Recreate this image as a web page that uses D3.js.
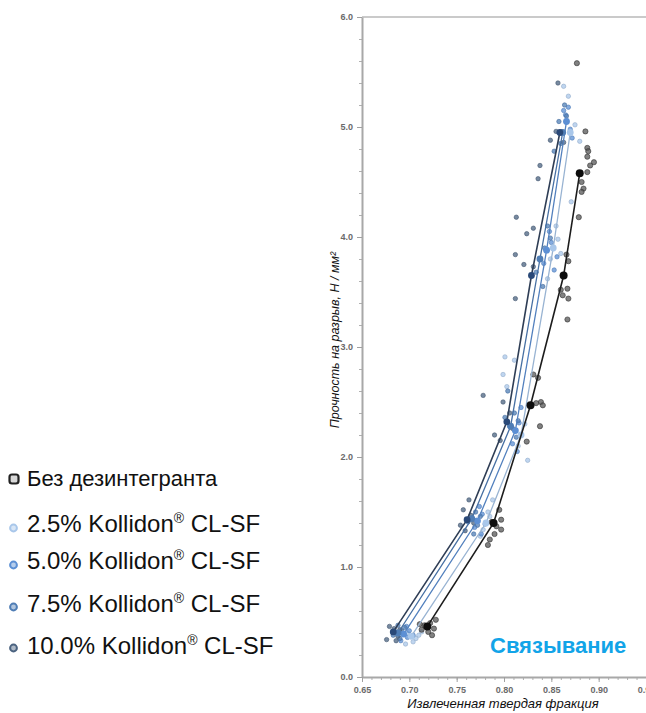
<!DOCTYPE html>
<html>
<head>
<meta charset="utf-8">
<script src="https://cdn.jsdelivr.net/npm/d3@7"></script>
<style>
  html, body { margin: 0; padding: 0; background: #fff; }
  svg { display: block; }
</style>
</head>
<body>
<svg id="chart" width="646" height="713"></svg>
<script>
// ---------- DATA ----------
const seriesNames = ["Без дезинтегранта", "2.5% Kollidon® CL-SF", "5.0% Kollidon® CL-SF", "7.5% Kollidon® CL-SF", "10.0% Kollidon® CL-SF"];
const seriesColors = ["#262626", "#a9c7ea", "#5b8fd4", "#4f7db5", "#4b6380"];
const xTickValues = [0.65, 0.70, 0.75, 0.80, 0.85, 0.90, 0.95];
const yTickValues = [0, 1, 2, 3, 4, 5, 6];
const xLabel = "Извлеченная твердая фракция";
const yLabel = "Прочность на разрыв, Н / мм²";
const annotation = "Связывание";

// mean curves (solid fraction, tensile strength) per series
const lineNone = [[0.719,0.46],[0.789,1.40],[0.828,2.47],[0.863,3.65],[0.880,4.58]];
const line25   = [[0.702,0.37],[0.781,1.40],[0.818,2.20],[0.852,3.90],[0.870,4.95]];
const line50   = [[0.694,0.39],[0.772,1.42],[0.812,2.24],[0.845,3.88],[0.866,5.05]];
const line75   = [[0.688,0.40],[0.766,1.44],[0.807,2.28],[0.838,3.80],[0.862,4.95]];
const line100  = [[0.683,0.41],[0.761,1.43],[0.803,2.32],[0.829,3.65],[0.859,4.95]];

// measured points per series
const pointsNone = [
  [0.716,0.47],[0.722,0.49],[0.726,0.44],[0.713,0.43],[0.720,0.41],[0.728,0.52],[0.711,0.48],[0.724,0.38],
  [0.787,1.41],[0.795,1.52],[0.797,1.43],[0.792,1.37],[0.797,1.34],[0.785,1.25],[0.783,1.20],[0.790,1.30],
  [0.831,2.75],[0.836,2.72],[0.839,2.50],[0.841,2.47],[0.834,2.49],[0.838,2.28],[0.824,2.14],
  [0.866,3.84],[0.868,3.78],[0.860,3.52],[0.867,3.53],[0.868,3.44],[0.862,3.47],[0.867,3.25],
  [0.886,4.96],[0.888,4.81],[0.889,4.78],[0.888,4.73],[0.895,4.68],[0.891,4.65],[0.888,4.59],[0.882,4.50],
  [0.884,4.44],[0.882,4.41],[0.877,5.58],[0.879,4.18]
];
const points25 = [
  [0.707,0.35],[0.698,0.40],[0.710,0.38],[0.704,0.32],[0.696,0.30],[0.713,0.41],
  [0.785,1.46],[0.778,1.34],[0.788,1.61],[0.783,1.50],[0.775,1.28],
  [0.822,2.30],[0.815,2.10],[0.801,2.91],[0.811,2.88],[0.799,2.75],[0.803,2.64],[0.825,1.97],
  [0.857,3.98],[0.849,3.80],[0.855,4.10],[0.846,3.62],[0.860,3.85],
  [0.868,5.28],[0.863,5.37],[0.871,4.32],[0.875,5.02],[0.866,5.06],[0.880,4.87]
];
const points50 = [
  [0.698,0.36],[0.700,0.42],[0.691,0.33],[0.697,0.46],[0.704,0.38],
  [0.777,1.48],[0.769,1.36],[0.780,1.39],[0.774,1.55],[0.776,1.30],
  [0.816,2.31],[0.809,2.12],[0.818,2.45],[0.806,2.28],[0.814,2.05],
  [0.856,3.82],[0.850,3.95],[0.842,3.76],[0.848,4.05],[0.853,3.70],
  [0.863,5.15],[0.868,5.18],[0.870,4.98],[0.865,5.11],[0.872,4.90]
];
const points75 = [
  [0.692,0.42],[0.683,0.38],[0.690,0.35],[0.695,0.45],[0.688,0.47],
  [0.770,1.50],[0.772,1.38],[0.762,1.41],[0.768,1.30],[0.775,1.46],
  [0.811,2.40],[0.801,2.36],[0.813,2.18],[0.804,2.60],[0.815,2.33],
  [0.849,3.99],[0.843,3.90],[0.834,3.68],[0.841,3.55],[0.846,4.10],
  [0.858,5.05],[0.866,5.10],[0.860,4.85],[0.864,5.20],[0.853,4.78]
];
const points100 = [
  [0.676,0.34],[0.684,0.44],[0.688,0.37],[0.679,0.46],[0.690,0.43],[0.686,0.33],
  [0.757,1.52],[0.763,1.61],[0.765,1.47],[0.754,1.38],[0.768,1.40],[0.759,1.33],
  [0.790,2.20],[0.799,2.50],[0.778,2.56],[0.806,2.40],[0.809,2.26],[0.796,2.15],
  [0.821,3.75],[0.831,3.73],[0.812,3.84],[0.812,3.44],[0.813,4.18],[0.824,4.03],[0.831,4.08],
  [0.849,4.88],[0.838,4.65],[0.836,4.53],[0.855,4.96],[0.863,4.86],[0.857,5.40]
];

// ---------- CHART ----------
const svg = d3.select("#chart");
const x = d3.scaleLinear().domain([0.65, 0.95]).range([362, 646]);
const y = d3.scaleLinear().domain([0, 6]).range([677, 17]);

const defs = svg.append("defs");
defs.append("filter").attr("id", "soft")
  .append("feGaussianBlur").attr("stdDeviation", 0.55);

// top frame line
svg.append("line")
  .attr("x1", x(0.65)).attr("x2", x(0.95))
  .attr("y1", y(6)).attr("y2", y(6))
  .attr("stroke", "#b8b8b8").attr("stroke-width", 1.5);

// minor ticks
const yMinor = d3.range(0, 6.001, 0.2).map(v => +v.toFixed(1));
const xMinor = d3.range(0.65, 0.9501, 0.01).map(v => +v.toFixed(2));
svg.append("g").attr("transform", `translate(${x(0.65)},0)`)
  .call(d3.axisLeft(y).tickValues(yMinor).tickSize(3).tickFormat(""))
  .call(g => g.select(".domain").remove())
  .selectAll("line").attr("stroke", "#b0b0b0");
svg.append("g").attr("transform", `translate(0,${y(0)})`)
  .call(d3.axisBottom(x).tickValues(xMinor).tickSize(3).tickFormat(""))
  .call(g => g.select(".domain").remove())
  .selectAll("line").attr("stroke", "#b0b0b0");

// major axes
const yAxis = svg.append("g").attr("transform", `translate(${x(0.65)},0)`)
  .call(d3.axisLeft(y).tickValues(yTickValues).tickSize(5).tickPadding(4).tickSizeOuter(0).tickFormat(d3.format(".1f")));
const xAxis = svg.append("g").attr("transform", `translate(0,${y(0)})`)
  .call(d3.axisBottom(x).tickValues(xTickValues).tickSize(5).tickPadding(5).tickSizeOuter(0).tickFormat(d3.format(".2f")));
[yAxis, xAxis].forEach(g => {
  g.select(".domain").attr("stroke", "#a8a8a8").attr("stroke-width", 2);
  g.selectAll(".tick line").attr("stroke", "#a0a0a0");
  g.selectAll(".tick text")
    .attr("fill", "#6a6a6a")
    .attr("font-family", "Liberation Sans, Arial, sans-serif")
    .attr("font-weight", "bold")
    .attr("font-size", 9);
});

// axis titles
svg.append("text")
  .attr("x", 503).attr("y", 708)
  .attr("text-anchor", "middle")
  .attr("font-family", "Liberation Sans, Arial, sans-serif")
  .attr("font-style", "italic").attr("font-size", 13).attr("fill", "#111")
  .text(xLabel);
svg.append("text")
  .attr("transform", "translate(339,340) rotate(-90)")
  .attr("text-anchor", "middle")
  .attr("font-family", "Liberation Sans, Arial, sans-serif")
  .attr("font-style", "italic").attr("font-size", 12.5).attr("fill", "#111")
  .text(yLabel);

// marks
const lines = [lineNone, line25, line50, line75, line100];
const points = [pointsNone, points25, points50, points75, points100];
const marks = svg.append("g").attr("filter", "url(#soft)");
const lineGen = d3.line().x(d => x(d[0])).y(d => y(d[1]));

// draw order: light first, dark last
const order = [1, 2, 3, 4, 0];
order.forEach(i => {
  marks.append("g").selectAll("circle").data(points[i]).join("circle")
    .attr("cx", d => x(d[0])).attr("cy", d => y(d[1]))
    .attr("r", i === 0 ? 2.6 : 2.2)
    .attr("fill", i === 0 ? "#555" : seriesColors[i])
    .attr("fill-opacity", 0.75)
    .attr("stroke", i === 0 ? "#333" : d3.color(seriesColors[i]).darker(0.4))
    .attr("stroke-width", 0.6);
});
order.forEach(i => {
  marks.append("path").datum(lines[i])
    .attr("d", lineGen)
    .attr("fill", "none")
    .attr("stroke", i === 0 ? "#1e1e1e" : (i === 4 ? "#2f3e55" : d3.color(seriesColors[i]).darker(0.3)))
    .attr("stroke-width", i === 0 || i === 4 ? 1.6 : 1.3);
  marks.append("g").selectAll("circle").data(lines[i]).join("circle")
    .attr("cx", d => x(d[0])).attr("cy", d => y(d[1]))
    .attr("r", i === 0 ? 4 : 3.4)
    .attr("fill", i === 0 ? "#111" : (i === 4 ? "#2c4a78" : seriesColors[i]))
    .attr("stroke", "none");
});

// annotation
svg.append("text")
  .attr("x", 490).attr("y", 653)
  .attr("font-family", "Liberation Sans, Arial, sans-serif")
  .attr("font-weight", "bold").attr("font-size", 22)
  .attr("fill", "#12a4e8")
  .text(annotation);

// legend
const legendY = [479, 528, 565, 607, 648];
const legendBase = [486, 532, 569, 612, 654];
const legend = svg.append("g");
seriesNames.forEach((name, i) => {
  if (i === 0) {
    legend.append("rect")
      .attr("x", 9.5).attr("y", legendY[i] - 4.5).attr("width", 9).attr("height", 9)
      .attr("rx", 2.5)
      .attr("fill", "#d8d8d8").attr("stroke", "#222").attr("stroke-width", 2.2);
  } else {
    legend.append("circle")
      .attr("cx", 13.5).attr("cy", legendY[i]).attr("r", 3.4)
      .attr("fill", d3.interpolateRgb(seriesColors[i], "#fff")(0.55))
      .attr("stroke", seriesColors[i]).attr("stroke-width", 2);
  }
  const t = legend.append("text")
    .attr("x", 27).attr("y", legendBase[i])
    .attr("font-family", "Liberation Sans, Arial, sans-serif")
    .attr("font-size", i === 0 ? 22 : 24)
    .attr("fill", "#111");
  const parts = name.split("®");
  t.append("tspan").text(parts[0]);
  if (parts.length > 1) {
    t.append("tspan").attr("font-size", 14).attr("dy", -9).text("®");
    t.append("tspan").attr("dy", 9).text(parts[1]);
  }
});
</script>
</body>
</html>
